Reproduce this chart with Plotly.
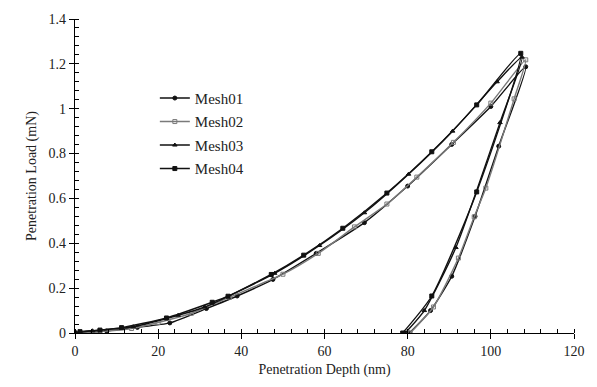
import plotly.graph_objects as go

# Mesh01
m1_x = [0, 7.6, 15, 22.8, 31.6, 39, 47.6, 58, 69.6, 80, 90.6, 100, 108.4,
        101.9, 96.2, 90.6, 85.5, 80.4]
m1_y = [0, 0.009, 0.025, 0.045, 0.109, 0.165, 0.239, 0.355, 0.492, 0.655, 0.841, 1.01, 1.187,
        0.833, 0.52, 0.253, 0.1, 0]
# Mesh02
m2_x = [0, 6, 13.6, 20, 28, 37.2, 50, 58.5, 67.2, 75, 82.2, 91, 100, 108.4,
        105.6, 98.8, 96, 92.2, 86.2, 80.6]
m2_y = [0, 0.006, 0.02, 0.047, 0.088, 0.16, 0.262, 0.355, 0.473, 0.575, 0.695, 0.85, 1.025, 1.218,
        1.044, 0.646, 0.518, 0.334, 0.116, 0]
# Mesh03
m3_x = [0, 4.2, 14, 24.8, 31.2, 48, 58.8, 69.6, 80.2, 90.8, 101.5, 107.5,
        102.2, 91.6, 84, 79.4]
m3_y = [0, 0.01, 0.028, 0.079, 0.116, 0.266, 0.39, 0.536, 0.708, 0.9, 1.12, 1.23,
        0.938, 0.381, 0.1, 0]
# Mesh04
m4_x = [0, 1.2, 6, 11.2, 22, 33, 36.8, 47.2, 55, 64.4, 75, 85.8, 96.6, 107.2,
        96.6, 85.8, 78.8]
m4_y = [0, 0.006, 0.013, 0.024, 0.067, 0.137, 0.164, 0.261, 0.347, 0.467, 0.624, 0.808, 1.017, 1.247,
        0.629, 0.165, 0]

names = ["Mesh01", "Mesh02", "Mesh03", "Mesh04"]
xs = [m1_x, m2_x, m3_x, m4_x]
ys = [m1_y, m2_y, m3_y, m4_y]
line_colors = ["#111111", "#7a7a7a", "#111111", "#111111"]
symbols = ["circle", "square-open", "triangle-up", "square"]
sizes = [4, 4, 4, 4]

fig = go.Figure()
for n, x, y, lc, s, sz in zip(names, xs, ys, line_colors, symbols, sizes):
    fig.add_trace(go.Scatter(
        x=x, y=y, name=n, mode="lines+markers", legendgroup=n,
        line=dict(color=lc, width=1.4, shape="spline", smoothing=0.6),
        marker=dict(symbol=s, size=sz, color=lc, line=dict(color=lc, width=1)),
    ))

font = "Liberation Serif"
fig.update_layout(
    width=597, height=387,
    margin=dict(l=75, r=22, t=16, b=54),
    paper_bgcolor="white", plot_bgcolor="white",
    font=dict(family=font, size=14, color="#222"),
    showlegend=True,
    legend=dict(x=0.16, y=0.80, xanchor="left", yanchor="top",
                bgcolor="rgba(0,0,0,0)", font=dict(family=font, size=15, color="#222"),
                tracegroupgap=1, itemwidth=30),
)
fig.update_xaxes(
    range=[0, 120], dtick=20, showgrid=False, zeroline=False,
    showline=True, linecolor="black", linewidth=1.2,
    ticks="outside", ticklen=5, tickcolor="black",
    minor=dict(dtick=4, ticks="inside", ticklen=4, tickcolor="black"),
    title=dict(text="Penetration Depth (nm)", font=dict(family=font, size=14), standoff=6),
    tickfont=dict(family=font, size=14),
)
fig.update_yaxes(
    range=[0, 1.4], dtick=0.2, showgrid=False, zeroline=False,
    showline=True, linecolor="black", linewidth=1.2,
    ticks="outside", ticklen=5, tickcolor="black",
    minor=dict(dtick=0.04, ticks="inside", ticklen=4, tickcolor="black"),
    title=dict(text="Penetration Load (mN)", font=dict(family=font, size=14), standoff=8),
    tickfont=dict(family=font, size=14),
)
fig.write_html("out.html")
